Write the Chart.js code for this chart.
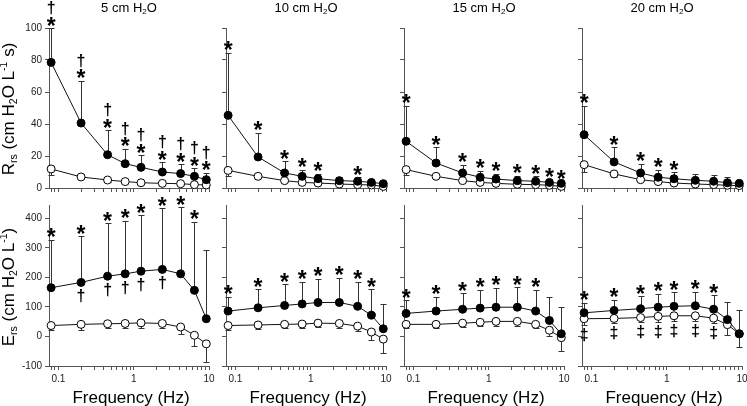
<!DOCTYPE html>
<html>
<head>
<meta charset="utf-8">
<script src="https://cdn.jsdelivr.net/npm/chart.js@4.4.1/dist/chart.umd.min.js"></script>
<style>
  body { margin: 0; background: #fff; width: 747px; height: 406px; position: relative; overflow: hidden;
         font-family: "Liberation Sans", Arial, sans-serif; color: #000; }
  canvas { position: absolute; }
  .colTitle { position: absolute; top: 0; width: 160px; text-align: center; font-size: 13px; line-height: 16px; }
  .xTitle { position: absolute; top: 388px; width: 160px; text-align: center; font-size: 17px; line-height: 20px; white-space: nowrap; }
  .yTitle { position: absolute; width: 200px; height: 24px; line-height: 24px; text-align: center; font-size: 17px;
            white-space: nowrap; transform: rotate(-90deg); }
  sub { font-size: 0.62em; vertical-align: -0.3em; line-height: 0; }
  sup { font-size: 0.62em; vertical-align: 0.65em; line-height: 0; }
</style>
</head>
<body>
<script>
// --- data ---
const freqHz = [0.08, 0.2, 0.45, 0.77, 1.25, 2.4, 4.2, 6.4, 9.2];
const pressures = [5, 10, 15, 20];
const xTickLabels = [0.1, 1, 10];
const rsTicks = [0, 20, 40, 60, 80, 100];
const esTicks = [-100, 0, 100, 200, 300, 400];

// Rrs, filled circles: mean and top of SD bar (one row per pressure)
const rsFilled = [
  [78.5, 40.6, 20.8, 15.2, 12.9, 10.0, 9.0, 7.3, 5.2],
  [45.4, 19.4, 9.4, 7.3, 5.8, 4.6, 4.2, 3.5, 2.7],
  [29.2, 15.6, 9.4, 6.7, 5.6, 4.6, 4.2, 3.5, 2.9],
  [33.3, 16.3, 9.4, 6.7, 5.8, 4.8, 4.2, 3.3, 2.9]
];
const rsFilledTop = [
  [100, 67, 36, 24.4, 20.6, 16, 15, 12.5, 9.4],
  [84.4, 34.4, 16.7, 11.5, 8.8, 6.7, 6.7, 5, 4],
  [51.5, 25.4, 14.6, 10.8, 9, 7.7, 7.3, 5.6, 4.2],
  [51.5, 25.4, 15.2, 11.5, 10, 9, 8.3, 6.9, 4.2]
];
// Rrs, open circles: mean and bottom of SD bar
const rsOpen = [
  [11.9, 6.9, 5.0, 4.0, 3.3, 2.9, 2.7, 2.1, 1.9],
  [11.0, 7.3, 4.6, 3.5, 3.1, 2.5, 2.1, 1.9, 1.0],
  [11.5, 7.3, 4.6, 3.5, 2.9, 2.3, 2.1, 1.7, 1.0],
  [14.6, 8.8, 5.2, 4.0, 3.1, 2.5, 2.1, 1.7, 1.5]
];
const rsOpenBottom = [
  [8, 5.5, 4, 3.2, 2.6, 2.2, 2, 1.5, 1.2],
  [7.5, 6, 3.8, 2.8, 2.5, 2, 1.6, 1.4, 0.6],
  [8, 6, 3.8, 2.8, 2.3, 1.8, 1.6, 1.2, 0.6],
  [9.8, 7, 4.2, 3.2, 2.5, 2, 1.6, 1.2, 1]
];

// Ers, filled circles
const esFilled = [
  [165, 183, 204, 212, 221, 227, 212, 156, 60],
  [86, 97, 105, 110, 115, 115, 102, 72, 26],
  [78, 86, 92, 96, 99, 99, 86, 54, 9],
  [80, 88, 94, 99, 102, 104, 92, 57, 9]
];
const esFilledTop = [
  [328, 340, 384, 392, 411, 434, 437, 389, 294],
  [135, 159, 176, 186, 195, 199, 186, 159, 111],
  [122, 135, 147, 158, 165, 167, 158, 135, 99],
  [114, 125, 136, 145, 150, 152, 139, 116, 91]
];
// Ers, open circles
const esOpen = [
  [37, 41, 43, 44, 46, 44, 32, 4, -25],
  [37, 39, 41, 42, 45, 44, 35, 15, -9],
  [41, 41, 45, 48, 51, 51, 41, 21, -4],
  [60, 61, 64, 68, 70, 70, 62, 40, 9]
];
const esOpenBottom = [
  [23, 23, 27, 28, 30, 28, 8, -33, -87],
  [23, 25, 28, 29, 32, 30, 20, -11, -56],
  [27, 28, 32, 34, 37, 37, 28, 1, -49],
  [40, 45, 48, 50, 52, 52, 44, 4, -36]
];

// significance marks, 1 = shown
const rsStar = [
  [1, 1, 1, 1, 1, 1, 1, 1, 1],
  [1, 1, 1, 1, 1, 0, 1, 0, 0],
  [1, 1, 1, 1, 1, 1, 1, 1, 1],
  [1, 1, 1, 1, 1, 0, 0, 0, 0]
];
const rsDagger = [
  [1, 1, 1, 1, 1, 1, 1, 1, 1],
  [0, 0, 0, 0, 0, 0, 0, 0, 0],
  [0, 0, 0, 0, 0, 0, 0, 0, 0],
  [0, 0, 0, 0, 0, 0, 0, 0, 0]
];
const esStar = [
  [1, 1, 1, 1, 1, 1, 1, 1, 0],
  [1, 1, 1, 1, 1, 1, 1, 1, 0],
  [1, 1, 1, 1, 1, 1, 1, 0, 0],
  [1, 1, 1, 1, 1, 1, 1, 0, 0]
];
const esDagger = [
  [0, 1, 1, 1, 1, 1, 0, 0, 0],
  [0, 0, 0, 0, 0, 0, 0, 0, 0],
  [0, 0, 0, 0, 0, 0, 0, 0, 0],
  [0, 0, 0, 0, 0, 0, 0, 0, 0]
];
const esDoubleDagger = [
  [0, 0, 0, 0, 0, 0, 0, 0, 0],
  [0, 0, 0, 0, 0, 0, 0, 0, 0],
  [0, 0, 0, 0, 0, 0, 0, 0, 0],
  [1, 1, 1, 1, 1, 1, 1, 0, 0]
];

// --- layout ---
const colLeft = [49, 226, 404, 582];
const plotW = 160;
const axisColor = '#555';
const FONT = '"Liberation Sans", Arial, sans-serif';

// log-axis tick marks 0.08 .. 10
const xTickValues = [];
for (let e = -2; e <= 1; e++) {
  for (let m = 1; m <= 9; m++) {
    const v = m * Math.pow(10, e);
    if (v >= 0.075 && v <= 10.0001) xTickValues.push(v);
  }
}
const isLabelled = v => xTickLabels.some(t => Math.abs(Math.log10(v) - Math.log10(t)) < 1e-6);

function glyph(ctx, ch, font, x, cy) {
  ctx.font = font;
  const m = ctx.measureText(ch);
  const off = (m.actualBoundingBoxAscent - m.actualBoundingBoxDescent) / 2;
  ctx.fillText(ch, x, cy + off);
}

function makePanel(row, col) {
  const top = row === 0;
  const mean1 = top ? rsFilled[col] : esFilled[col];
  const end1 = top ? rsFilledTop[col] : esFilledTop[col];
  const mean2 = top ? rsOpen[col] : esOpen[col];
  const end2 = top ? rsOpenBottom[col] : esOpenBottom[col];

  const cv = document.createElement('canvas');
  const padTop = top ? 28 : 15;
  const canvasTop = top ? 0 : 190;
  const xH = top ? 14 : 22;
  const areaBottom = top ? 188 : 366;
  cv.width = 40 + plotW + 12;
  cv.height = areaBottom - canvasTop + xH;
  cv.style.left = (colLeft[col] - 40) + 'px';
  cv.style.top = canvasTop + 'px';
  document.body.appendChild(cv);

  const marks = {
    id: 'marks' + row + col,
    beforeDatasetsDraw(chart) {
      const ctx = chart.ctx, xs = chart.scales.x, ys = chart.scales.y;
      ctx.save();
      ctx.strokeStyle = '#333';
      ctx.lineWidth = 1;
      [[mean1, end1], [mean2, end2]].forEach(([m, e]) => {
        freqHz.forEach((f, i) => {
          const x = Math.round(xs.getPixelForValue(f)) + 0.5;
          const y0 = ys.getPixelForValue(m[i]);
          const y1 = Math.round(ys.getPixelForValue(e[i])) + 0.5;
          ctx.beginPath();
          ctx.moveTo(x, y0); ctx.lineTo(x, y1);
          ctx.moveTo(x - 3, y1); ctx.lineTo(x + 3, y1);
          ctx.stroke();
        });
      });
      ctx.restore();
    },
    afterDatasetsDraw(chart) {
      const ctx = chart.ctx, xs = chart.scales.x, ys = chart.scales.y;
      ctx.save();
      ctx.fillStyle = '#000';
      ctx.textAlign = 'center';
      ctx.textBaseline = 'alphabetic';
      const starFont = 'bold 23px ' + FONT;
      const dagFont = 'bold 16px ' + FONT;
      freqHz.forEach((f, i) => {
        const x = xs.getPixelForValue(f);
        const yTop = ys.getPixelForValue(end1[i]);
        if (top) {
          if (rsStar[col][i]) glyph(ctx, '*', starFont, x, yTop - 7);
          if (rsDagger[col][i]) glyph(ctx, '\u2020', dagFont, x, yTop - 20);
        } else {
          if (esStar[col][i]) glyph(ctx, '*', starFont, x, yTop - 7);
          if (esDagger[col][i]) glyph(ctx, '\u2020', dagFont, x, ys.getPixelForValue(mean1[i]) + 14);
          if (esDoubleDagger[col][i]) glyph(ctx, '\u2021', dagFont, x, ys.getPixelForValue(end2[i]) + 10);
        }
      });
      ctx.restore();
    }
  };

  const pts = vals => freqHz.map((f, i) => ({ x: f, y: vals[i] }));
  const lineStyle = {
    borderColor: '#111', borderWidth: 1, pointRadius: 4, pointBorderWidth: 1,
    pointBorderColor: '#000', pointHoverRadius: 4, clip: false, tension: 0
  };

  new Chart(cv, {
    type: 'line',
    data: {
      datasets: [
        Object.assign({ data: pts(mean1), pointBackgroundColor: '#000' }, lineStyle),
        Object.assign({ data: pts(mean2), pointBackgroundColor: '#fff' }, lineStyle)
      ]
    },
    options: {
      responsive: false,
      animation: false,
      events: [],
      layout: { padding: { top: padTop, right: 12, bottom: 0, left: 0 } },
      plugins: { legend: { display: false }, tooltip: { enabled: false } },
      scales: {
        x: {
          type: 'logarithmic', min: 0.075, max: 10,
          afterBuildTicks: s => { s.ticks = xTickValues.map(v => ({ value: v })); },
          afterFit: s => { s.height = xH; },
          grid: { drawOnChartArea: false, tickLength: 4, color: axisColor },
          border: { color: axisColor },
          ticks: {
            autoSkip: false, maxRotation: 0, padding: 3, color: '#222',
            font: { family: FONT, size: 10 },
            callback: v => (!top && isLabelled(v)) ? String(v) : ''
          }
        },
        y: {
          type: 'linear',
          min: top ? 0 : -100, max: top ? 100 : 445,
          afterBuildTicks: s => { s.ticks = (top ? rsTicks : esTicks).map(v => ({ value: v })); },
          afterFit: s => { s.width = 40; },
          grid: { drawOnChartArea: false, tickLength: 4, color: axisColor },
          border: { color: axisColor },
          ticks: {
            padding: 3, color: '#222', font: { family: FONT, size: 10 },
            callback: v => col === 0 ? String(v) : ''
          }
        }
      }
    },
    plugins: [marks]
  });
}

for (let r = 0; r < 2; r++) for (let c = 0; c < 4; c++) makePanel(r, c);

// text around the panels
function addDiv(cls, html, left, topPx) {
  const d = document.createElement('div');
  d.className = cls;
  d.innerHTML = html;
  d.style.left = left + 'px';
  if (topPx !== undefined) d.style.top = topPx + 'px';
  document.body.appendChild(d);
}
pressures.forEach((p, c) => {
  addDiv('colTitle', p + ' cm H<sub>2</sub>O', colLeft[c]);
  addDiv('xTitle', 'Frequency (Hz)', colLeft[c] + 2);
});
addDiv('yTitle', 'R<sub>rs</sub> (cm H<sub>2</sub>O L<sup>-1</sup> s)', 9.4 - 100, 109 - 12);
addDiv('yTitle', 'E<sub>rs</sub> (cm H<sub>2</sub>O L<sup>-1</sup>)', 9.4 - 100, 287 - 12);
</script>
</body>
</html>
